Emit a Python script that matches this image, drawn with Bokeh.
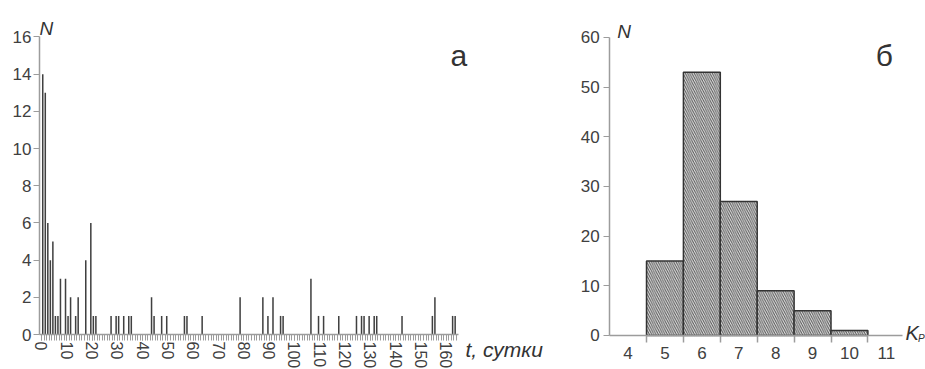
from bokeh.plotting import figure
from bokeh.layouts import row
from bokeh.models import FixedTicker, SingleIntervalTicker, Label, Range1d, ColumnDataSource
from bokeh.embed import file_html
from bokeh.resources import INLINE

# ---- panel а: number of events per day ----
days = [0, 1, 2, 3, 4, 5, 6, 7, 9, 10, 11, 13, 14, 17, 19, 20, 21,
        27, 29, 30, 32, 34, 35, 43, 44, 47, 49, 56, 57, 63,
        78, 87, 89, 91, 94, 95, 106, 109, 111, 117,
        124, 126, 127, 129, 131, 132, 142, 154, 155, 162, 163]
counts = [14, 13, 6, 4, 5, 1, 1, 3, 3, 1, 2, 1, 2, 4, 6, 1, 1,
          1, 1, 1, 1, 1, 1, 2, 1, 1, 1, 1, 1, 1,
          2, 2, 1, 2, 1, 1, 3, 1, 1, 1,
          1, 1, 1, 1, 1, 1, 1, 1, 2, 1, 1]
t_ticks = list(range(0, 161, 10))
n_ticks_a = list(range(0, 17, 2))

# ---- panel б: distribution by energy class ----
kp_classes = [5, 6, 7, 8, 9, 10]
kp_counts = [15, 53, 27, 9, 5, 1]
kp_ticks = [4, 5, 6, 7, 8, 9, 10, 11]
kp_edges = [4.5, 5.5, 6.5, 7.5, 8.5, 9.5, 10.5]
n_ticks_b = [0, 10, 20, 30, 40, 50, 60]

FONT = "Liberation Sans"
AX = "#9c9c9c"
TXT = "#404040"
LBL = "#333333"
H = 369


def make(width, xr, yr):
    p = figure(width=width, height=H, output_backend="svg", toolbar_location=None,
               x_range=Range1d(*xr), y_range=Range1d(*yr),
               min_border_left=0, min_border_right=0, min_border_top=0,
               min_border_bottom=0)
    p.grid.visible = False
    p.outline_line_color = None
    p.background_fill_color = "white"
    p.border_fill_color = "white"
    for ax in (p.xaxis[0], p.yaxis[0]):
        ax.axis_line_color = AX
        ax.axis_line_width = 1.5
        ax.major_tick_line_color = AX
        ax.minor_tick_line_color = AX
        ax.major_label_text_font = FONT
        ax.major_label_text_font_size = "17px"
        ax.major_label_text_color = TXT
        ax.major_tick_in = 0
        ax.minor_tick_in = 0
    return p


def label(p, x, y, text, size, italic=False):
    p.add_layout(Label(x=x, y=y, text=text, text_font=FONT, text_font_size=size,
                       text_font_style="italic" if italic else "normal",
                       text_color=LBL, text_baseline="alphabetic"))


# ---------------- panel а ----------------
pa = make(568, (-16.2, 208.3), (-1.88, 17.96))
src_a = ColumnDataSource(dict(x=[d + 0.5 for d in days], top=counts))
pa.vbar(x="x", top="top", width=0.6, bottom=0, source=src_a,
        fill_color="#404040", line_color=None)
pa.xaxis.fixed_location = 0
pa.xaxis.bounds = (-0.8, 164.8)
pa.xaxis.ticker = SingleIntervalTicker(interval=10, num_minor_ticks=10)
pa.xaxis.major_label_orientation = "vertical"
pa.xaxis.major_label_text_font_size = "16px"
pa.xaxis.major_tick_out = 6
pa.xaxis.minor_tick_out = 6
pa.xaxis.major_label_standoff = 1
pa.yaxis.fixed_location = -0.8
pa.yaxis.bounds = (0, 16)
pa.yaxis.ticker = FixedTicker(ticks=n_ticks_a)
pa.yaxis.major_tick_out = 6
pa.yaxis.minor_tick_out = 0
pa.yaxis.major_label_standoff = 2

label(pa, -0.8, 16.45, "N", "19px", italic=True)
label(pa, 161.7, 15.0, "а", "30px")
label(pa, 167.6, -0.81, "t, сутки", "21px", italic=True)

# ---------------- panel б ----------------
pb = make(357, (2.386, 12.061), (-6.85, 67.45))
src_b = ColumnDataSource(dict(x=kp_classes, top=kp_counts))
pb.vbar(x="x", top="top", width=1.0, bottom=0, source=src_b,
        fill_color="#e2e2e2", hatch_pattern="\\", hatch_color="#555555",
        hatch_scale=4.5, hatch_weight=1, line_color="#333333", line_width=1.5)
pb.xaxis.fixed_location = 0
pb.xaxis.bounds = (3.5, 11.44)
pb.xaxis.ticker = FixedTicker(ticks=kp_ticks, minor_ticks=kp_edges)
pb.xaxis.major_tick_out = 0
pb.xaxis.minor_tick_out = 7
pb.xaxis.minor_tick_line_width = 1.5
pb.xaxis.major_label_standoff = 5
pb.yaxis.fixed_location = 3.5
pb.yaxis.bounds = (0, 60)
pb.yaxis.ticker = FixedTicker(ticks=n_ticks_b)
pb.yaxis.major_tick_out = 6
pb.yaxis.minor_tick_out = 0
pb.yaxis.major_label_standoff = 4

label(pb, 3.71, 61.2, "N", "19px", italic=True)
label(pb, 10.71, 56.4, "б", "30px")
label(pb, 11.52, 0.4, "K", "20px", italic=True)
label(pb, 11.86, -0.6, "Р", "10px", italic=True)

layout = row(pa, pb, spacing=0)
open("out.html", "w").write(file_html(layout, INLINE))
